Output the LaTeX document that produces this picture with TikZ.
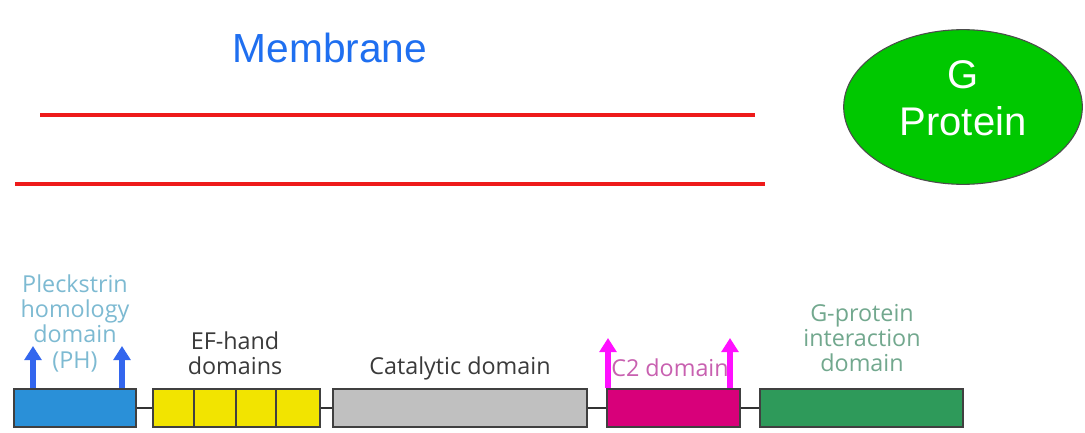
\documentclass[tikz,border=0pt]{standalone}
\usepackage{fontspec}
\setmainfont{Liberation Sans}
\newfontfamily\lab{Open Sans}
\usetikzlibrary{shapes.geometric,arrows.meta}
\definecolor{memred}{HTML}{EE1A1A}
\definecolor{memblue}{HTML}{1F6FF0}
\definecolor{gfill}{HTML}{00C800}
\definecolor{phblue}{HTML}{2A90D8}
\definecolor{efyel}{HTML}{F2E400}
\definecolor{catgray}{HTML}{C0C0C0}
\definecolor{ctwo}{HTML}{D8007A}
\definecolor{gpgreen}{HTML}{2E9A5A}
\definecolor{arrblue}{HTML}{3366EE}
\definecolor{arrmag}{HTML}{FF10FF}
\definecolor{phtext}{HTML}{7DBAD2}
\definecolor{eftext}{HTML}{3A3A3A}
\definecolor{c2text}{HTML}{C860B0}
\definecolor{gptext}{HTML}{72A88E}
\tikzset{
  memline/.style={memred, line width=2.4pt},
  dombox/.style={draw=black!75, line width=1.4pt, minimum height=28.5pt, inner sep=0pt},
  linker/.style={black!80, line width=1.8pt},
  uparrow/.style={line width=4pt, -{Triangle[width=12.5pt,length=10.5pt]}},
  domlabel/.style={font=\lab\fontsize{17.5}{19}\selectfont, align=center, inner sep=0pt},
}
\begin{document}
\begin{tikzpicture}[x=0.75pt,y=-0.75pt]
\fill[white] (0,0) rectangle (1085,432);
\useasboundingbox (0,0) rectangle (1085,432);
% membrane
\node[memblue, font=\fontsize{30.5}{34}\selectfont, inner sep=0pt] (mtitle) at (330,48) {Membrane};
\coordinate (m1a) at (40,115); \coordinate (m1b) at (755,115);
\coordinate (m2a) at (15,184); \coordinate (m2b) at (765,184);
\draw[memline] (m1a) -- (m1b);
\draw[memline] (m2a) -- (m2b);
% G protein
\node[ellipse, draw=black!70, line width=0.8pt, fill=gfill, minimum width=179pt, minimum height=116pt, inner sep=0pt] (gp) at (963,107) {};
\node[text=white, font=\fontsize{30}{35}\selectfont, align=center, inner sep=0pt] (gpt) at (963,98) {G\\Protein};
% domain boxes
\node[dombox, fill=phblue, minimum width=91.5pt] (ph) at (75,408) {};
\node[dombox, fill=efyel, minimum width=125pt] (ef) at (236.5,408) {};
\draw[black!75, line width=1.3pt] ([xshift=31.5pt]ef.north west) -- ([xshift=31.5pt]ef.south west);
\draw[black!75, line width=1.3pt] ([xshift=63pt]ef.north west) -- ([xshift=63pt]ef.south west);
\draw[black!75, line width=1.3pt] ([xshift=93pt]ef.north west) -- ([xshift=93pt]ef.south west);
\node[dombox, fill=catgray, minimum width=190.5pt] (cat) at (460,408) {};
\node[dombox, fill=ctwo, minimum width=99.75pt] (c2) at (673.5,408) {};
\node[dombox, fill=gpgreen, minimum width=152.25pt] (gi) at (861.5,408) {};
\draw[linker] (ph.east) -- (ef.west);
\draw[linker] (ef.east) -- (cat.west);
\draw[linker] (cat.east) -- (c2.west);
\draw[linker] (c2.east) -- (gi.west);
% arrows
\coordinate (pha) at (33,346); \coordinate (phb) at (122,346);
\draw[uparrow, arrblue] (ph.north west -| pha) -- (pha);
\draw[uparrow, arrblue] (ph.north west -| phb) -- (phb);
\coordinate (c2a) at (608,338); \coordinate (c2b) at (730,338);
% labels
\node[domlabel, text=phtext] (phl) at (75,323) {Pleckstrin\\homology\\domain\\(PH)};
\node[domlabel, text=eftext] (efl) at (235,353) {EF-hand\\domains};
\node[domlabel, text=eftext] (catl) at (460,368) {Catalytic domain};
\node[domlabel, text=c2text] (c2l) at (670,368) {C2 domain};
\node[domlabel, text=gptext] (gil) at (862,338) {G-protein\\interaction\\domain};
\draw[uparrow, arrmag] (c2.north west -| c2a) -- (c2a);
\draw[uparrow, arrmag] (c2.north west -| c2b) -- (c2b);
\end{tikzpicture}
\end{document}
